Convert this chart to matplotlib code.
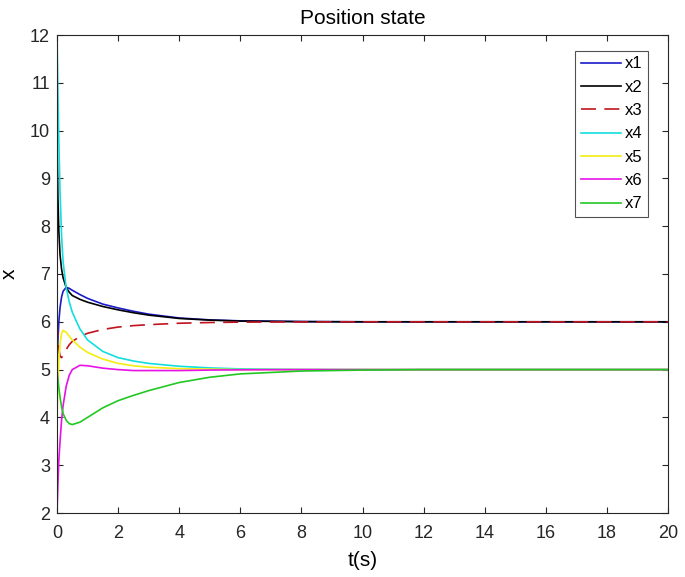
import matplotlib
matplotlib.use("Agg")
import matplotlib.pyplot as plt

plt.rcParams['font.family'] = ['Liberation Sans', 'DejaVu Sans']

t = [0, 0.03, 0.06, 0.1, 0.15, 0.2, 0.3, 0.4, 0.5, 0.75, 1, 1.5, 2, 2.5, 3, 4, 5, 6, 8, 10, 12, 15, 20]

x1 = [5.0, 5.6, 6.0, 6.3, 6.52, 6.64, 6.72, 6.7, 6.66, 6.57, 6.49, 6.37, 6.29, 6.22, 6.16, 6.08, 6.04, 6.02, 6.005, 6.0, 6.0, 6.0, 6.0]
x2 = [10.0, 8.6, 7.9, 7.4, 7.1, 6.92, 6.72, 6.62, 6.55, 6.47, 6.41, 6.32, 6.25, 6.19, 6.14, 6.07, 6.035, 6.015, 6.003, 6.0, 6.0, 6.0, 6.0]
x3 = [6.0, 5.7, 5.45, 5.28, 5.25, 5.3, 5.42, 5.52, 5.59, 5.69, 5.76, 5.84, 5.89, 5.92, 5.94, 5.97, 5.985, 5.993, 5.998, 6.0, 6.0, 6.0, 6.0]
x4 = [12.0, 10.8, 9.8, 8.7, 7.8, 7.25, 6.72, 6.42, 6.2, 5.85, 5.62, 5.38, 5.25, 5.18, 5.13, 5.07, 5.035, 5.015, 5.003, 5.0, 5.0, 5.0, 5.0]
x5 = [4.0, 4.7, 5.2, 5.55, 5.75, 5.82, 5.78, 5.7, 5.62, 5.47, 5.36, 5.22, 5.13, 5.08, 5.05, 5.02, 5.01, 5.0, 5.0, 5.0, 5.0, 5.0, 5.0]
x6 = [2.0, 2.6, 3.1, 3.5, 3.95, 4.25, 4.65, 4.88, 5.0, 5.09, 5.08, 5.03, 5.0, 4.98, 4.98, 4.98, 4.99, 4.995, 5.0, 5.0, 5.0, 5.0, 5.0]
x7 = [5.0, 4.8, 4.62, 4.42, 4.22, 4.08, 3.94, 3.87, 3.85, 3.9, 4.0, 4.2, 4.35, 4.46, 4.56, 4.73, 4.84, 4.91, 4.97, 4.99, 5.0, 5.0, 5.0]

labels = ['x1', 'x2', 'x3', 'x4', 'x5', 'x6', 'x7']
series = [x1, x2, x3, x4, x5, x6, x7]
colors = ['#1a1ac8', '#000000', '#c0141e', '#12dede', '#f2ee10', '#e612e6', '#22c822']
styles = ['-', '-', '--', '-', '-', '-', '-']

fig = plt.figure(figsize=(6.85, 5.77), dpi=100)
ax = fig.add_axes([57/685, 64/577, 611/685, 478/577])

for y, lab, c, ls in zip(series, labels, colors, styles):
    line, = ax.plot(t, y, color=c, linestyle=ls, linewidth=1.2, label=lab)
    if ls == '--':
        line.set_dashes((9, 5))

ax.set_xlim(0, 20)
ax.set_ylim(2, 12)
ax.set_xticks(range(0, 21, 2))
ax.set_yticks(range(2, 13, 1))
ax.tick_params(direction='in', top=True, right=True, labelsize=13, length=4, width=0.8,
               colors='#262626')
ax.tick_params(axis='x', pad=9)
ax.tick_params(axis='y', pad=5)
for s in ax.spines.values():
    s.set_color('#262626')
    s.set_linewidth(0.8)

ax.set_title('Position state', fontsize=15, pad=8)
ax.set_xlabel('t(s)', fontsize=15, labelpad=6)
ax.set_ylabel('x', fontsize=15, labelpad=8)

leg = ax.legend(loc='upper right', bbox_to_anchor=(0.967, 0.9665), borderaxespad=0,
                fontsize=12, frameon=True, fancybox=False, edgecolor='#262626',
                handlelength=2.4, labelspacing=0.5, borderpad=0.32, handletextpad=0.25)
leg.get_frame().set_linewidth(0.8)

fig.savefig('out.png', dpi=100)
